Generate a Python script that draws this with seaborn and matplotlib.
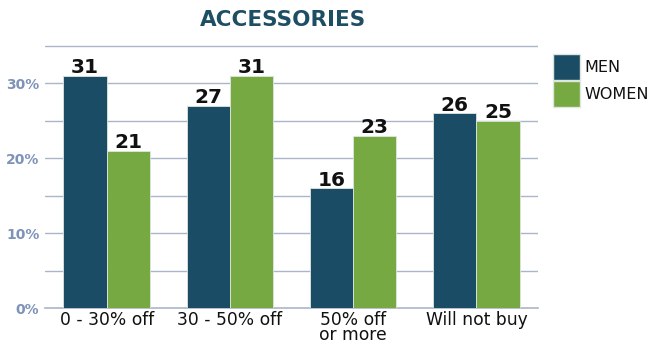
import matplotlib
matplotlib.use("Agg")
import matplotlib.pyplot as plt
import seaborn as sns
import pandas as pd
from matplotlib.patches import Patch

categories = ["0 - 30% off", "30 - 50% off", "50% off\nor more", "Will not buy"]
men = [31, 27, 16, 26]
women = [21, 31, 23, 25]
series = ["MEN", "WOMEN"]
ytick_vals = [0, 10, 20, 30]
ytick_labels = ["0%", "10%", "20%", "30%"]

df = pd.DataFrame({
    "category": categories * 2,
    "value": men + women,
    "series": [series[0]] * len(categories) + [series[1]] * len(categories),
})

sns.set_theme(style="white")
plt.rcParams["font.family"] = ["DejaVu Sans"]

c_men = "#1b4c65"
c_women = "#77a943"
grid_c = "#a9b5ca"

fig = plt.figure(figsize=(6.58, 3.46), dpi=100)
ax = fig.add_axes([45/658, 1 - 308.3/346, (538 - 45)/658, 264.8/346])

sns.barplot(data=df, x="category", y="value", hue="series", order=categories,
            hue_order=series, palette=[c_men, c_women], width=0.7, gap=0,
            saturation=1, ax=ax, legend=False, edgecolor="#dfe6e0",
            linewidth=0.6, zorder=3)

ax.set_xlim(-0.5, 3.5)
ax.set_ylim(0, 35.3)
for y in [5, 10, 15, 20, 25, 30, 35]:
    ax.axhline(y, color=grid_c, lw=1.0, zorder=1)
for s in ["top", "right", "left"]:
    ax.spines[s].set_visible(False)
ax.spines["bottom"].set_color(grid_c)
ax.spines["bottom"].set_linewidth(1.2)

ax.set_yticks(ytick_vals)
ax.set_yticklabels(ytick_labels, color="#7d93b8", fontsize=10, fontweight="bold")
ax.tick_params(axis="y", length=0, pad=4)
ax.tick_params(axis="x", length=0, pad=2)
for lab in ax.get_xticklabels():
    lab.set_fontsize(12.3)
    lab.set_color("#111111")
    lab.set_linespacing(0.78)
ax.set_xlabel("")
ax.set_ylabel("")

for cont in ax.containers:
    ax.bar_label(cont, fmt="%d", padding=-1, fontsize=14.5, fontweight="bold", color="#111111")

fig.text(283/658, 1 - 20/346, "ACCESSORIES", ha="center", va="center",
         fontsize=15.5, fontweight="bold", color="#1d4e64")

handles = [Patch(facecolor=c_men, edgecolor="#dfe6e0"), Patch(facecolor=c_women, edgecolor="#dfe6e0")]
leg = fig.legend(handles, series, loc="upper left", bbox_to_anchor=(553/658, 1 - 54/346),
                 frameon=False, fontsize=11.5, handlelength=1.68, handleheight=2.1,
                 handletextpad=0.3, labelspacing=0.1, borderpad=0, borderaxespad=0)
for t in leg.get_texts():
    t.set_color("#111111")

fig.savefig("out.png", dpi=100)
